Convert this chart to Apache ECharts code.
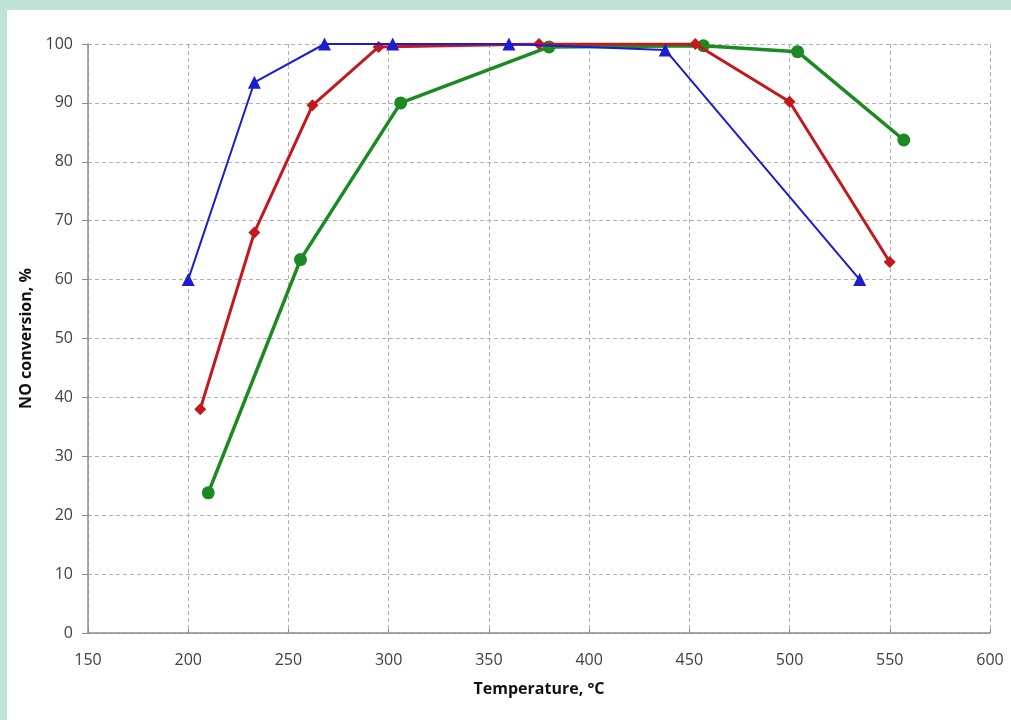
<!DOCTYPE html>
<html>
<head>
<meta charset="utf-8">
<title>NO conversion vs temperature</title>
<script src="https://cdn.jsdelivr.net/npm/echarts@6/dist/echarts.min.js"></script>
<style>
	html, body { margin: 0; padding: 0; width: 1011px; height: 720px; background: #bfe3d4; overflow: hidden; }
	#chart { position: absolute; left: 7px; top: 10px; width: 1004px; height: 710px; background: #ffffff; }
</style>
</head>
<body>
<div id="chart"></div>
<script>
// 数据
var blueTemp = [200, 233, 268, 302, 360, 438, 535];
var blueConv = [60, 93.5, 100, 100, 100, 99, 60];

var redTemp = [206, 233, 262, 295, 375, 453, 500, 550];
var redConv = [38, 68, 89.6, 99.5, 100, 100, 90.2, 63];

var greenTemp = [210, 256, 306, 380, 457, 504, 557];
var greenConv = [23.8, 63.4, 90, 99.5, 99.7, 98.7, 83.7];

var xTicks = [150, 200, 250, 300, 350, 400, 450, 500, 550, 600];
var yTicks = [0, 10, 20, 30, 40, 50, 60, 70, 80, 90, 100];

function pairs(xs, ys){
	var out = [];
	for (var i = 0; i < xs.length; i++) {
		out.push([xs[i], ys[i]]);
	}
	return out;
}

var labelStyle = { color: '#404040', fontSize: 16, fontFamily: 'Open Sans' };
var nameStyle = { color: '#111', fontSize: 16, fontWeight: 'bold', fontFamily: 'Open Sans' };
var gridLine = { show: true, lineStyle: { color: '#b0b0b0', type: [4, 3], width: 1 } };

var myChart = echarts.init(document.getElementById('chart'));
myChart.setOption({
	animation: false,
	grid: { left: 81, right: 21, top: 34, bottom: 87 },
	xAxis: {
		type: 'value',
		min: xTicks[0],
		max: xTicks[xTicks.length - 1],
		interval: 50,
		name: 'Temperature, °C',
		nameLocation: 'middle',
		nameGap: 48,
		nameTextStyle: nameStyle,
		axisLine: { lineStyle: { color: '#8c8c8c', width: 1.5 } },
		axisTick: { show: true, inside: true, length: 4, lineStyle: { color: '#8c8c8c' } },
		axisLabel: Object.assign({ margin: 19 }, labelStyle),
		splitLine: gridLine
	},
	yAxis: {
		type: 'value',
		min: yTicks[0],
		max: yTicks[yTicks.length - 1],
		interval: 10,
		name: 'NO conversion, %',
		nameLocation: 'middle',
		nameGap: 40,
		nameTextStyle: nameStyle,
		axisLine: { show: true, lineStyle: { color: '#8c8c8c', width: 1.5 } },
		axisTick: { show: true, length: 6, lineStyle: { color: '#8c8c8c' } },
		axisLabel: Object.assign({ margin: 15 }, labelStyle),
		splitLine: gridLine
	},
	series: [{
		name: 'blue',
		type: 'line',
		data: pairs(blueTemp, blueConv),
		symbol: 'triangle',
		symbolSize: 13,
		lineStyle: { color: '#1c1cd0', width: 2 },
		itemStyle: { color: '#1c1cd0' },
		z: 4
	}, {
		name: 'red',
		type: 'line',
		data: pairs(redTemp, redConv),
		symbol: 'diamond',
		symbolSize: 12,
		lineStyle: { color: '#c4181c', width: 3 },
		itemStyle: { color: '#c4181c' },
		z: 3
	}, {
		name: 'green',
		type: 'line',
		data: pairs(greenTemp, greenConv),
		symbol: 'circle',
		symbolSize: 13,
		lineStyle: { color: '#1a8a22', width: 3.5 },
		itemStyle: { color: '#1a8a22' },
		z: 2
	}]
});
</script>
</body>
</html>
